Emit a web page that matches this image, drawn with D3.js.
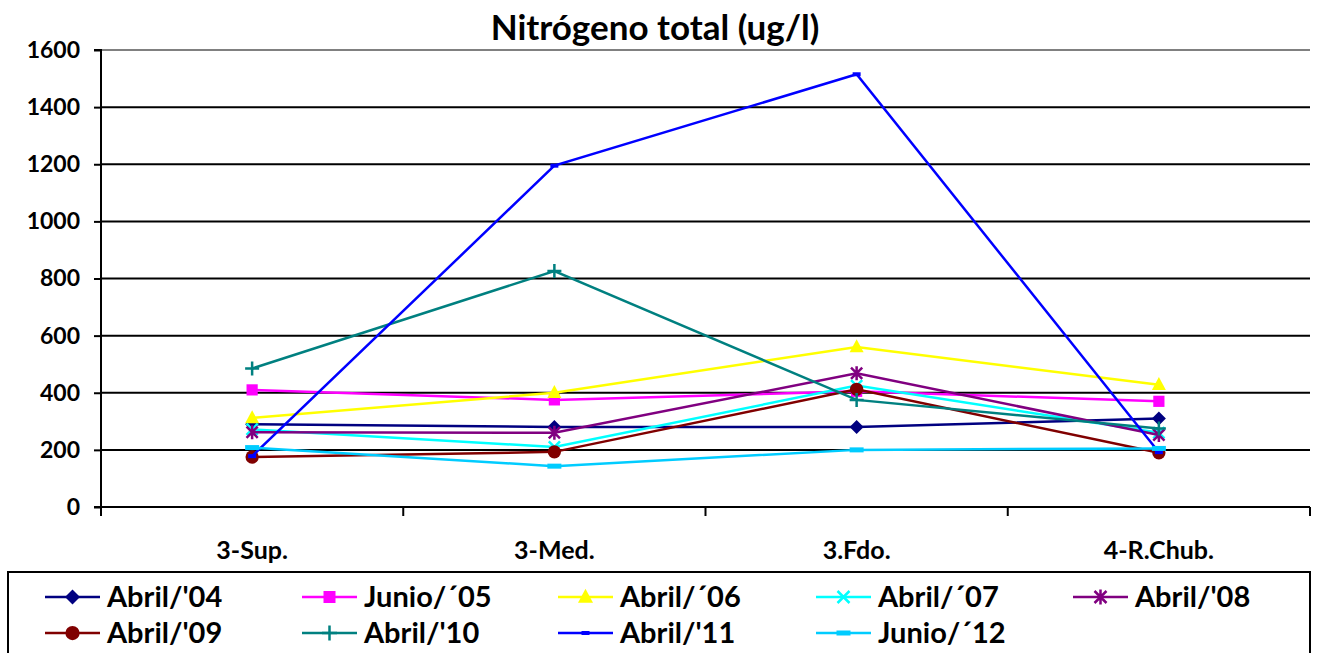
<!DOCTYPE html>
<html>
<head>
<meta charset="utf-8">
<script src="https://cdn.jsdelivr.net/npm/d3@7"></script>
<style>
  body { margin: 0; background: #fff; }
  svg { display: block; font-family: Lato, "Open Sans", "Liberation Sans", sans-serif; font-weight: bold; }
</style>
</head>
<body>
<svg id="chart" width="1318" height="653"></svg>
<script>
// Sampling stations along the x axis
const categories = ["3-Sup.", "3-Med.", "3.Fdo.", "4-R.Chub."];

// Total nitrogen (ug/l) per campaign
const abril04 = [290, 280, 280, 310];
const junio05 = [410, 375, 405, 370];
const abril06 = [312, 400, 560, 428];
const abril07 = [272, 210, 425, 260];
const abril08 = [262, 260, 468, 252];
const abril09 = [175, 193, 412, 190];
const abril10 = [485, 826, 375, 275];
const abril11 = [178, 1195, 1515, 192];
const junio12 = [208, 143, 200, 205];

const yTicks = [0, 200, 400, 600, 800, 1000, 1200, 1400, 1600];

const series = [
  { name: "Abril/'04", values: abril04, color: "#000080", marker: "diamond" },
  { name: "Junio/\u00b405", values: junio05, color: "#FF00FF", marker: "square" },
  { name: "Abril/\u00b406", values: abril06, color: "#FFFF00", marker: "triangle" },
  { name: "Abril/\u00b407", values: abril07, color: "#00FFFF", marker: "x" },
  { name: "Abril/'08", values: abril08, color: "#800080", marker: "star" },
  { name: "Abril/'09", values: abril09, color: "#800000", marker: "circle" },
  { name: "Abril/'10", values: abril10, color: "#008080", marker: "plus" },
  { name: "Abril/'11", values: abril11, color: "#0000FF", marker: "dash" },
  { name: "Junio/\u00b412", values: junio12, color: "#00CCFF", marker: "dashwide" }
];

const svg = d3.select("#chart");
const plotLeft = 101, plotRight = 1310, plotTop = 50, plotBottom = 507;

const x = d3.scaleBand().domain(categories).range([plotLeft, plotRight]);
const y = d3.scaleLinear().domain([0, 1600]).range([plotBottom, plotTop]);

// Title
svg.append("text")
  .attr("x", 655).attr("y", 40)
  .attr("text-anchor", "middle")
  .attr("font-size", 35)
  .text("Nitrógeno total (ug/l)");

// Horizontal gridlines
svg.append("g").selectAll("line")
  .data(yTicks.filter(d => d > 0))
  .join("line")
  .attr("x1", plotLeft).attr("x2", plotRight)
  .attr("y1", d => y(d)).attr("y2", d => y(d))
  .attr("stroke", d => d === 1600 ? "#808080" : "#000")
  .attr("stroke-width", 2);

// Y axis
const yAxis = d3.axisLeft(y).tickValues(yTicks).tickFormat(d3.format("d")).tickSize(7).tickPadding(14);
const gy = svg.append("g").attr("transform", `translate(${plotLeft},0)`).call(yAxis);
gy.select(".domain").attr("stroke", "#000").attr("stroke-width", 2).attr("d", `M-7,${y(1600)}H0V${y(0)}H-7`);
gy.selectAll(".tick line").attr("stroke", "#000").attr("stroke-width", 2);
gy.selectAll(".tick text").attr("font-size", 23).attr("font-weight", "bold")
  .attr("font-family", "Lato, 'Open Sans', sans-serif").attr("fill", "#000");

// X axis: ticks at band boundaries, labels centered in bands
const gx = svg.append("g").attr("transform", `translate(0,${plotBottom})`);
gx.append("line").attr("x1", plotLeft).attr("x2", plotRight).attr("y1", 0).attr("y2", 0)
  .attr("stroke", "#000").attr("stroke-width", 2);
const bounds = categories.map(c => x(c)).concat([plotRight]);
gx.selectAll("line.tk").data(bounds).join("line").attr("class", "tk")
  .attr("x1", d => d).attr("x2", d => d).attr("y1", 0).attr("y2", 9)
  .attr("stroke", "#000").attr("stroke-width", 2);
gx.selectAll("text").data(categories).join("text")
  .attr("x", d => x(d) + x.bandwidth() / 2)
  .attr("y", 52)
  .attr("text-anchor", "middle")
  .attr("font-size", 25)
  .text(d => d);

// Marker drawing
function drawMarker(g, type, color, s) {
  switch (type) {
    case "diamond":
      g.append("path").attr("d", `M0,${-s}L${s},0L0,${s}L${-s},0Z`).attr("fill", color); break;
    case "square":
      g.append("rect").attr("x", -s * 0.8).attr("y", -s * 0.8).attr("width", s * 1.6).attr("height", s * 1.6).attr("fill", color); break;
    case "triangle":
      g.append("path").attr("d", `M0,${-s * 1.1}L${s},${s * 0.75}L${-s},${s * 0.75}Z`).attr("fill", color); break;
    case "circle":
      g.append("circle").attr("r", s * 0.95).attr("fill", color); break;
    case "x":
      g.append("path").attr("d", `M${-s * 0.8},${-s * 0.8}L${s * 0.8},${s * 0.8}M${-s * 0.8},${s * 0.8}L${s * 0.8},${-s * 0.8}`)
        .attr("stroke", color).attr("stroke-width", 2.5); break;
    case "star":
      g.append("path").attr("d", `M${-s * 0.8},${-s * 0.8}L${s * 0.8},${s * 0.8}M${-s * 0.8},${s * 0.8}L${s * 0.8},${-s * 0.8}M0,${-s}L0,${s}`)
        .attr("stroke", color).attr("stroke-width", 2.5); break;
    case "plus":
      g.append("path").attr("d", `M${-s},0L${s},0M0,${-s}L0,${s}`)
        .attr("stroke", color).attr("stroke-width", 2.5); break;
    case "dash":
      g.append("rect").attr("x", -4).attr("y", -2).attr("width", 8).attr("height", 4).attr("fill", color); break;
    case "dashwide":
      g.append("rect").attr("x", -7).attr("y", -2.5).attr("width", 14).attr("height", 5).attr("fill", color); break;
  }
}

const cx = c => x(c) + x.bandwidth() / 2;
const line = d3.line().x((d, i) => cx(categories[i])).y(d => y(d));

// Series lines and markers
series.forEach(s => {
  const g = svg.append("g");
  g.append("path").datum(s.values).attr("d", line)
    .attr("fill", "none").attr("stroke", s.color).attr("stroke-width", 2.5);
  s.values.forEach((v, i) => {
    const m = g.append("g").attr("transform", `translate(${cx(categories[i])},${y(v)})`);
    drawMarker(m, s.marker, s.color, 7);
  });
});

// Legend
svg.append("rect").attr("x", 8).attr("y", 572).attr("width", 1302).attr("height", 90)
  .attr("fill", "none").attr("stroke", "#000").attr("stroke-width", 2);
const colX = [45, 302, 558, 816, 1073];
const rowY = [597, 633];
series.forEach((s, i) => {
  const lx = colX[i % 5], ly = rowY[Math.floor(i / 5)];
  const g = svg.append("g").attr("transform", `translate(${lx},${ly})`);
  g.append("line").attr("x1", 0).attr("x2", 55).attr("y1", 0).attr("y2", 0)
    .attr("stroke", s.color).attr("stroke-width", 2.5);
  const m = g.append("g").attr("transform", "translate(27.5,0)");
  drawMarker(m, s.marker, s.color, 7.5);
  g.append("text").attr("x", 62).attr("y", 10).attr("font-size", 29).text(s.name);
});
</script>
</body>
</html>
